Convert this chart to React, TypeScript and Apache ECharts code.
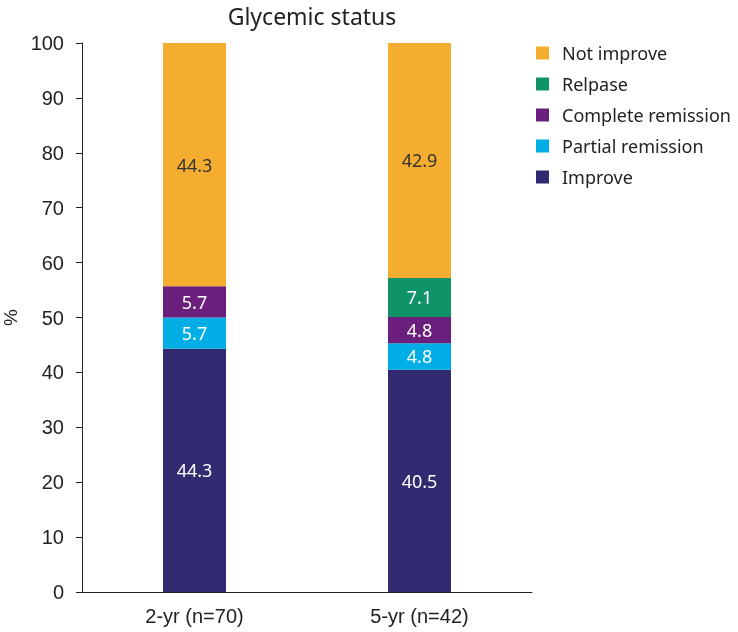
import React, { useEffect, useRef } from "react";
import * as echarts from "echarts";

const categories = ["2-yr (n=70)", "5-yr (n=42)"];
const improve = [44.3, 40.5];
const partialRemission = [5.7, 4.8];
const completeRemission = [5.7, 4.8];
const relapse = [0, 7.1];
const notImprove = [44.3, 42.9];
const legendOrder = ["Not improve", "Relpase", "Complete remission", "Partial remission", "Improve"];

export default function App() {
  const ref = useRef<HTMLDivElement>(null);
  useEffect(() => {
    if (!ref.current) return;
    const chart = echarts.init(ref.current, null, { renderer: "svg" });
    const labelStyle = (color: string) => ({
      show: true,
      position: "inside",
      color,
      fontSize: 18,
      fontFamily: "Noto Sans",
      formatter: (p: any) => (p.value ? String(p.value) : ""),
    });
    const mk = (name: string, data: number[], color: string, labelColor: string) => ({
      name,
      type: "bar",
      stack: "total",
      data,
      barWidth: "28%",
      itemStyle: { color },
      label: labelStyle(labelColor),
    });
    chart.setOption({
      animation: false,
      title: {
        text: "Glycemic status",
        left: 307,
        textAlign: "center",
        top: -1,
        textStyle: { fontSize: 23, fontWeight: "normal", color: "#222", fontFamily: "Noto Sans" },
      },
      legend: {
        orient: "vertical",
        left: 531,
        top: 39,
        itemWidth: 13,
        itemHeight: 13,
        itemGap: 13,
        icon: "rect",
        data: legendOrder,
        textStyle: { fontSize: 18, color: "#222", fontFamily: "Noto Sans", padding: [0, 0, 0, 8] },
      },
      grid: { left: 82, right: 206, top: 43, bottom: 40, containLabel: false, outerBoundsMode: "none" },
      xAxis: {
        type: "category",
        data: categories,
        axisLine: { lineStyle: { color: "#222" } },
        axisTick: { length: 10, lineStyle: { color: "#222" } },
        axisLabel: { fontSize: 20, color: "#222", fontFamily: "Liberation Sans", margin: 14 },
      },
      yAxis: {
        type: "value",
        min: 0,
        max: 100,
        interval: 10,
        name: "%",
        nameLocation: "middle",
        nameRotate: 90,
        nameGap: 60,
        nameTextStyle: { fontSize: 19, color: "#222", fontFamily: "Liberation Sans" },
        axisLine: { show: true, lineStyle: { color: "#222" } },
        axisTick: { show: true, length: 6, lineStyle: { color: "#222" } },
        splitLine: { show: false },
        axisLabel: { fontSize: 20, color: "#222", fontFamily: "Liberation Sans", margin: 18 },
      },
      series: [
        mk("Improve", improve, "#312A70", "#fff"),
        mk("Partial remission", partialRemission, "#00AEE6", "#fff"),
        mk("Complete remission", completeRemission, "#6B1F7D", "#fff"),
        mk("Relpase", relapse, "#0E9468", "#fff"),
        mk("Not improve", notImprove, "#F5AD2F", "#333"),
      ],
    });
    return () => chart.dispose();
  }, []);
  return <div ref={ref} style={{ position: "fixed", left: 0, top: 0, width: 738, height: 632 }} />;
}
